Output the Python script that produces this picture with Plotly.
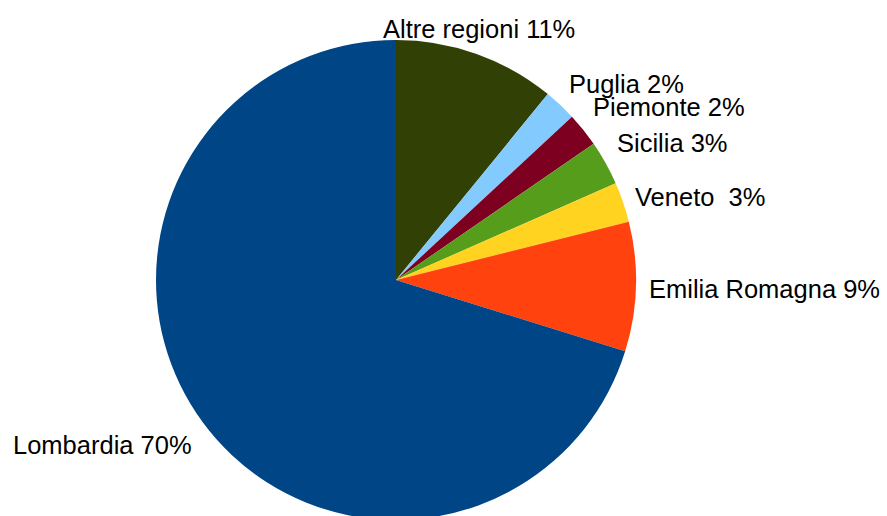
import plotly.graph_objects as go

regions = ["Altre regioni", "Puglia", "Piemonte", "Sicilia", "Veneto", "Emilia Romagna", "Lombardia"]
shares = [10.9, 2.2, 2.3, 3.0, 2.7, 8.7, 70.2]
display_labels = ["Altre regioni 11%", "Puglia 2%", "Piemonte 2%", "Sicilia 3%",
                  "Veneto&nbsp; 3%", "Emilia Romagna 9%", "Lombardia 70%"]
colors = ["#314004", "#83caff", "#7e0021", "#579d1c", "#ffd320", "#ff420e", "#004586"]

# label placement (pixels: left edge, text baseline) - layout only
label_left_px = [383, 569, 593, 617, 635, 649, 13]
label_base_px = [37, 92, 116, 151, 206, 297, 453]

W, H = 887, 560
cx, cy, r = 396, 280, 240
FONT = "Liberation Sans, Arial, sans-serif"
FS = 25.5

fig = go.Figure(go.Pie(
    labels=regions,
    values=shares,
    textinfo="none",
    textposition="none",
    sort=False,
    direction="clockwise",
    rotation=0,
    marker=dict(colors=colors, line=dict(width=0)),
    showlegend=False,
    hoverinfo="label+percent",
    domain=dict(x=[(cx - r) / W, (cx + r) / W], y=[(H - cy - r) / H, (H - cy + r) / H]),
    automargin=False,
))

for txt, lx, by in zip(display_labels, label_left_px, label_base_px):
    fig.add_annotation(
        x=lx / W, y=(H - (by - 8.5)) / H, xref="paper", yref="paper",
        text=txt, showarrow=False, xanchor="left", yanchor="middle",
        font=dict(family=FONT, size=FS, color="#000000"),
        xshift=-2,
    )

fig.update_layout(
    width=W, height=H,
    margin=dict(l=0, r=0, t=0, b=0),
    paper_bgcolor="white",
    plot_bgcolor="white",
)

fig.write_html("out.html", config={"displayModeBar": False},
               post_script="document.body.style.margin='0';document.body.style.overflow='hidden';")
